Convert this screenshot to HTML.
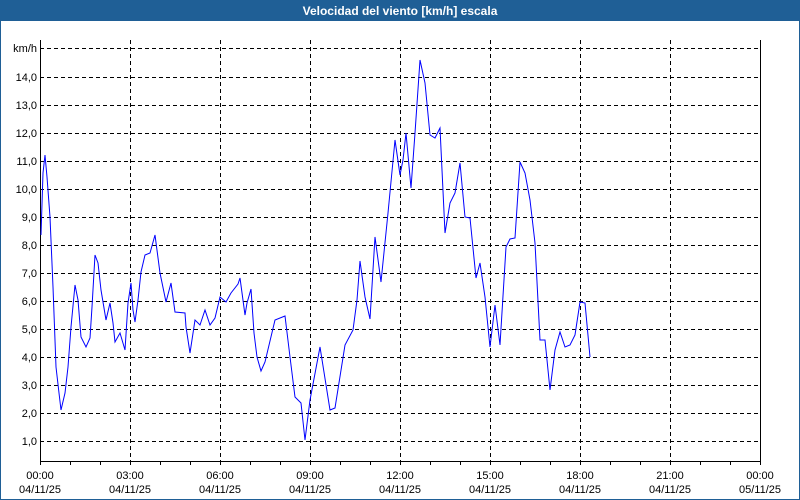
<!DOCTYPE html>
<html><head><meta charset="utf-8"><style>
html,body{margin:0;padding:0;background:#fff}
svg{display:block;font-family:"Liberation Sans",sans-serif}
</style></head><body>
<svg width="800" height="500" xmlns="http://www.w3.org/2000/svg">
<rect x="0" y="0" width="800" height="500" fill="#fff"/>
<rect x="0.5" y="0.5" width="799" height="499" fill="none" stroke="#1f5f96"/>
<rect x="0" y="0" width="800" height="21" fill="#1f5f96"/>
<text x="400" y="15" text-anchor="middle" fill="#fff" font-size="12" font-weight="bold">Velocidad del viento [km/h] escala</text>
<g stroke="#000" stroke-dasharray="4,3" stroke-width="1">
<line x1="40" x2="760" y1="48.5" y2="48.5"/>
<line x1="40" x2="760" y1="77.5" y2="77.5"/>
<line x1="40" x2="760" y1="105.5" y2="105.5"/>
<line x1="40" x2="760" y1="133.5" y2="133.5"/>
<line x1="40" x2="760" y1="161.5" y2="161.5"/>
<line x1="40" x2="760" y1="189.5" y2="189.5"/>
<line x1="40" x2="760" y1="217.5" y2="217.5"/>
<line x1="40" x2="760" y1="245.5" y2="245.5"/>
<line x1="40" x2="760" y1="273.5" y2="273.5"/>
<line x1="40" x2="760" y1="301.5" y2="301.5"/>
<line x1="40" x2="760" y1="329.5" y2="329.5"/>
<line x1="40" x2="760" y1="357.5" y2="357.5"/>
<line x1="40" x2="760" y1="385.5" y2="385.5"/>
<line x1="40" x2="760" y1="413.5" y2="413.5"/>
<line x1="40" x2="760" y1="441.5" y2="441.5"/>
<line x1="130.5" x2="130.5" y1="40" y2="461"/>
<line x1="220.5" x2="220.5" y1="40" y2="461"/>
<line x1="310.5" x2="310.5" y1="40" y2="461"/>
<line x1="400.5" x2="400.5" y1="40" y2="461"/>
<line x1="490.5" x2="490.5" y1="40" y2="461"/>
<line x1="580.5" x2="580.5" y1="40" y2="461"/>
<line x1="670.5" x2="670.5" y1="40" y2="461"/>
</g>
<path d="M40.5 40V461.5H760.5V40" fill="none" stroke="#000"/>
<g stroke="#000">
<line x1="40.5" x2="40.5" y1="461" y2="465"/><line x1="70.5" x2="70.5" y1="461" y2="465"/><line x1="100.5" x2="100.5" y1="461" y2="465"/>
<line x1="130.5" x2="130.5" y1="461" y2="465"/><line x1="160.5" x2="160.5" y1="461" y2="465"/><line x1="190.5" x2="190.5" y1="461" y2="465"/>
<line x1="220.5" x2="220.5" y1="461" y2="465"/><line x1="250.5" x2="250.5" y1="461" y2="465"/><line x1="280.5" x2="280.5" y1="461" y2="465"/>
<line x1="310.5" x2="310.5" y1="461" y2="465"/><line x1="340.5" x2="340.5" y1="461" y2="465"/><line x1="370.5" x2="370.5" y1="461" y2="465"/>
<line x1="400.5" x2="400.5" y1="461" y2="465"/><line x1="430.5" x2="430.5" y1="461" y2="465"/><line x1="460.5" x2="460.5" y1="461" y2="465"/>
<line x1="490.5" x2="490.5" y1="461" y2="465"/><line x1="520.5" x2="520.5" y1="461" y2="465"/><line x1="550.5" x2="550.5" y1="461" y2="465"/>
<line x1="580.5" x2="580.5" y1="461" y2="465"/><line x1="610.5" x2="610.5" y1="461" y2="465"/><line x1="640.5" x2="640.5" y1="461" y2="465"/>
<line x1="670.5" x2="670.5" y1="461" y2="465"/><line x1="700.5" x2="700.5" y1="461" y2="465"/><line x1="730.5" x2="730.5" y1="461" y2="465"/>
<line x1="760.5" x2="760.5" y1="461" y2="465"/>
</g>
<g font-size="11" fill="#000" text-anchor="end">
<text x="37" y="52">km/h</text>
<text x="37" y="81">14,0</text><text x="37" y="109">13,0</text><text x="37" y="137">12,0</text>
<text x="37" y="165">11,0</text><text x="37" y="193">10,0</text><text x="37" y="221">9,0</text>
<text x="37" y="249">8,0</text><text x="37" y="277">7,0</text><text x="37" y="305">6,0</text>
<text x="37" y="333">5,0</text><text x="37" y="361">4,0</text><text x="37" y="389">3,0</text>
<text x="37" y="417">2,0</text><text x="37" y="445">1,0</text>
</g>
<g font-size="11" fill="#000" text-anchor="middle">
<text x="40" y="479">00:00</text><text x="40" y="493">04/11/25</text>
<text x="130" y="479">03:00</text><text x="130" y="493">04/11/25</text>
<text x="220" y="479">06:00</text><text x="220" y="493">04/11/25</text>
<text x="310" y="479">09:00</text><text x="310" y="493">04/11/25</text>
<text x="400" y="479">12:00</text><text x="400" y="493">04/11/25</text>
<text x="490" y="479">15:00</text><text x="490" y="493">04/11/25</text>
<text x="580" y="479">18:00</text><text x="580" y="493">04/11/25</text>
<text x="670" y="479">21:00</text><text x="670" y="493">04/11/25</text>
<text x="760" y="479">00:00</text><text x="760" y="493">05/11/25</text>
</g>
<polyline fill="none" stroke="#0000ff" stroke-width="1" points="41,235 43,173 45,155 47,177 50,217 53,287 56,367 59,393 61,410 65,393 68,367 71,327 75,285 78,300 81,337 86,347 90,338 92,307 95,255 98,263 101,290 106,320 110,303 113,323 115,342 120,333 125,350 128,303 131,283 133,310 135,322 138,300 141,272 145,255 150,253 155,235 160,273 166,302 171,283 175,312 185,313 186,327 190,353 195,320 200,325 205,310 210,325 215,318 220,297 226,302 231,293 238,284 240,278 245,315 247,303 251,289 254,333 257,357 261,371 265,362 275,320 285,316 290,357 295,397 301,403 305,440 310,400 320,347 330,410 335,408 345,345 353,330 357,300 360,261 365,297 370,319 375,237 381,282 388,213 395,140 400,175 403,160 406,133 411,188 415,133 420,60 425,83 430,135 435,138 440,128 445,233 450,203 455,193 460,163 465,217 470,218 476,278 480,263 485,297 490,347 495,305 500,345 506,247 510,239 515,238 520,162 525,173 530,200 535,243 540,340 545,340 550,390 555,350 560,332 565,347 570,345 575,335 580,302 585,303 590,357"/>
</svg>
</body></html>
